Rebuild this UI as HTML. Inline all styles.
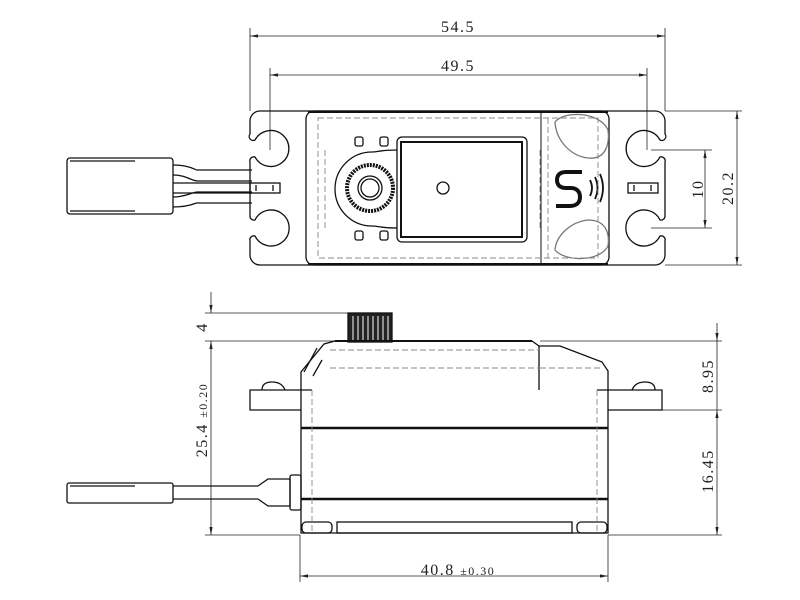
<!DOCTYPE html>
<html><head><meta charset="utf-8"><style>
html,body{margin:0;padding:0;background:#fff;}
svg{display:block}
text{font-family:"Liberation Serif","DejaVu Serif",serif;fill:#222;letter-spacing:1.5px;}
</style></head><body>
<svg width="800" height="600" viewBox="0 0 800 600" xmlns="http://www.w3.org/2000/svg">
<defs><marker id="a" markerWidth="10" markerHeight="6" refX="10" refY="3" orient="auto-start-reverse"><path d="M0,1 L10,3 L0,5z" fill="#222"/></marker></defs>
<g stroke="#222" stroke-width="0.8" fill="none">
<line x1="250" y1="28" x2="250" y2="111"/><line x1="665" y1="28" x2="665" y2="111"/>
<line x1="250" y1="36" x2="665" y2="36" marker-start="url(#a)" marker-end="url(#a)"/>
<line x1="270" y1="68" x2="270" y2="150"/><line x1="647" y1="68" x2="647" y2="150"/>
<line x1="270" y1="75" x2="647" y2="75" marker-start="url(#a)" marker-end="url(#a)"/>
<line x1="651" y1="150" x2="712" y2="150"/><line x1="651" y1="228" x2="712" y2="228"/>
<line x1="705" y1="150" x2="705" y2="228" marker-start="url(#a)" marker-end="url(#a)"/>
<line x1="665" y1="111" x2="742" y2="111"/><line x1="665" y1="265" x2="742" y2="265"/>
<line x1="737" y1="111" x2="737" y2="265" marker-start="url(#a)" marker-end="url(#a)"/>
<line x1="205" y1="313" x2="390" y2="313"/><line x1="205" y1="341" x2="335" y2="341"/>
<line x1="205" y1="535" x2="300" y2="535"/>
<line x1="211" y1="292" x2="211" y2="313" marker-end="url(#a)"/>
<line x1="211" y1="341" x2="211" y2="535" marker-start="url(#a)" marker-end="url(#a)"/>
<line x1="540" y1="341" x2="722" y2="341"/><line x1="610" y1="410" x2="722" y2="410"/>
<line x1="608" y1="535" x2="722" y2="535"/>
<line x1="717" y1="323" x2="717" y2="341" marker-end="url(#a)"/>
<line x1="717" y1="410" x2="717" y2="535" marker-start="url(#a)" marker-end="url(#a)"/>
<line x1="717" y1="341" x2="717" y2="410"/>
<line x1="300" y1="535" x2="300" y2="582"/><line x1="608" y1="535" x2="608" y2="582"/>
<line x1="300" y1="576" x2="608" y2="576" marker-start="url(#a)" marker-end="url(#a)"/>
</g>
<g font-size="16">
<text x="458" y="32" text-anchor="middle">54.5</text>
<text x="458" y="71" text-anchor="middle">49.5</text>
<text transform="translate(703,189) rotate(-90)" text-anchor="middle">10</text>
<text transform="translate(733,188) rotate(-90)" text-anchor="middle">20.2</text>
<text transform="translate(207,327) rotate(-90)" text-anchor="middle">4</text>
<text transform="translate(207,420) rotate(-90)" text-anchor="middle">25.4 <tspan font-size="12">±0.20</tspan></text>
<text transform="translate(713,376) rotate(-90)" text-anchor="middle">8.95</text>
<text transform="translate(713,471) rotate(-90)" text-anchor="middle">16.45</text>
<text x="458" y="575" text-anchor="middle">40.8 <tspan font-size="12">±0.30</tspan></text>
</g>
<g stroke="#111" stroke-width="1.3" fill="none">
<path d="M260,111 H655 A10,10 0 0 1 665,121 V134 A4,4 0 0 1 660,140 A18,18 0 1 0 660,157 A4,4 0 0 1 665,162 V216 A4,4 0 0 1 660,220 A18,18 0 1 0 660,236 A4,4 0 0 1 665,241 V255 A10,10 0 0 1 655,265 H260 A10,10 0 0 1 250,255 V241 A4,4 0 0 1 255,236 A18,18 0 1 0 255,220 A4,4 0 0 1 250,216 V162 A4,4 0 0 1 255,157 A18,18 0 1 0 255,140 A4,4 0 0 1 250,134 V121 A10,10 0 0 1 260,111 Z"/>
<path d="M308,112 H608 M308,264 H608" stroke-width="2"/>
<rect x="306" y="111" width="303" height="154" rx="8"/>
<rect x="397" y="137" width="130" height="105" rx="5"/>
<rect x="401" y="142" width="121" height="95" stroke-width="2"/>
<circle cx="443" cy="188" r="6"/>
<path d="M397,150 C380,150 378,152 372,152 A36,36 0 0 0 372,226 C378,226 380,228 397,228" />
<circle cx="370" cy="188" r="23" stroke-width="4" stroke-dasharray="2 1"/>
<circle cx="370" cy="188" r="12"/><circle cx="370" cy="188" r="9"/>
<rect x="355" y="137" width="8" height="9" rx="2"/><rect x="380" y="137" width="8" height="9" rx="2"/>
<rect x="355" y="231" width="8" height="9" rx="2"/><rect x="380" y="231" width="8" height="9" rx="2"/>
<path d="M582,172 H566 C559,172 557,176 557,180 C557,185 560,188 566,188 H571 C577,188 580,192 580,197 C580,202 577,206 570,206 H556" stroke-width="4"/>
<path d="M590,180 q4,8 0,16 M595,177 q5,11 0,22 M600,174 q6,14 0,28" stroke-width="1.8"/>
<path d="M555,122 C565,110 600,112 608,130 C610,145 605,160 588,158 C570,156 556,140 555,122Z" stroke="#777"/>
<path d="M555,250 C565,262 600,262 608,246 C610,232 605,220 588,220 C570,222 556,236 555,250Z" stroke="#777"/>
<line x1="541" y1="112" x2="541" y2="264" stroke-width="1"/>
<rect x="67" y="158" width="106" height="56" rx="3"/>
<line x1="70" y1="161" x2="135" y2="161"/><line x1="70" y1="211" x2="135" y2="211"/>
<path d="M173,165 C190,165 195,170 197,170 H252 M173,207 C190,207 195,203 197,203 H252"/>
<path d="M197,181 H252 M173,183 H252 M173,193 H252 M197,192 H252" />
<path d="M173,175 C185,175 190,180 197,181 M173,197 C185,197 190,193 197,192"/>
<rect x="250" y="183" width="30" height="10"/><rect x="628" y="183" width="30" height="10"/>
<path d="M256,185 v6 M273,185 v6 M634,185 v6 M651,185 v6"/>
</g>
<g stroke="#888" stroke-width="0.9" fill="none" stroke-dasharray="6 3">
<rect x="318" y="118" width="280" height="140"/>
<line x1="325" y1="150" x2="325" y2="230"/><line x1="540" y1="150" x2="540" y2="230"/>
<line x1="548" y1="118" x2="548" y2="258"/>
</g>
<g stroke="#111" stroke-width="1.3" fill="none">
<rect x="348" y="313" width="44" height="29" fill="#222"/>
<g stroke="#fff" stroke-width="1"><line x1="353" y1="316" x2="353" y2="340"/><line x1="358" y1="316" x2="358" y2="340"/><line x1="363" y1="316" x2="363" y2="340"/><line x1="368" y1="316" x2="368" y2="340"/><line x1="373" y1="316" x2="373" y2="340"/><line x1="378" y1="316" x2="378" y2="340"/><line x1="383" y1="316" x2="383" y2="340"/><line x1="388" y1="316" x2="388" y2="340"/></g>
<path d="M301,390 V372 L324,344 L335,341 H532 L539,346 H560 L602,362 L608,371 V390"/>
<line x1="335" y1="341" x2="532" y2="341" stroke-width="2"/>
<path d="M301,390 V533 H608 V390"/>
<path d="M312,390 H250 V410 H301 M597,390 H662 V410 H608"/>
<path d="M262,390 Q262,382 272,382 Q282,382 285,390 M632,390 Q635,382 645,382 Q655,382 655,390"/>
<line x1="301" y1="428" x2="608" y2="428" stroke-width="2.5"/>
<line x1="301" y1="499" x2="608" y2="499" stroke-width="2.5"/>
<rect x="302" y="522" width="30" height="11" rx="4"/><rect x="577" y="522" width="30" height="11" rx="4"/>
<rect x="337" y="522" width="235" height="11"/>
<path d="M539,346 V390 M317,348 L304,372 M322,360 L313,376"/>
<rect x="67" y="483" width="106" height="20" rx="2"/>
<line x1="70" y1="486" x2="135" y2="486"/>
<line x1="173" y1="486" x2="258" y2="486"/><line x1="173" y1="499" x2="258" y2="499"/>
<path d="M258,486 L268,479 H290 V506 H268 L258,499"/>
<rect x="290" y="475" width="11" height="35" rx="2"/>
</g>
<g stroke="#888" stroke-width="0.9" fill="none" stroke-dasharray="6 3">
<line x1="312" y1="390" x2="312" y2="533"/><line x1="597" y1="390" x2="597" y2="533"/>
<line x1="330" y1="350" x2="540" y2="350"/><line x1="540" y1="368" x2="602" y2="368"/>
<line x1="330" y1="368" x2="540" y2="368"/>
</g>
</svg>
</body></html>
